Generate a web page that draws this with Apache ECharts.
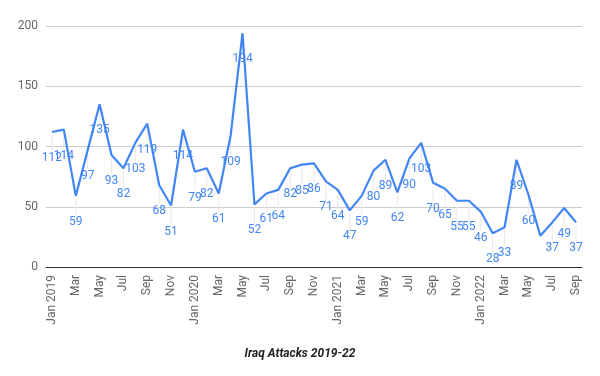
<!DOCTYPE html>
<html>
<head>
<meta charset="utf-8">
<script src="https://cdn.jsdelivr.net/npm/echarts@6/dist/echarts.min.js"></script>
<style>
  html, body { margin: 0; padding: 0; background: #fff; }
  #chart { width: 600px; height: 376px; }
</style>
</head>
<body>
<div id="chart"></div>
<script>
const MONTHS = ['Jan', 'Feb', 'Mar', 'Apr', 'May', 'Jun', 'Jul', 'Aug', 'Sep', 'Oct', 'Nov', 'Dec']
const YEARS = [2019, 2020, 2021, 2022]

// monthly attacks, Jan 2019 .. Sep 2022
const attacks = [
  112, 114, 59, 97, 135, 93, 82, 103, 119, 68, 51, 114,
  79, 82, 61, 109, 194, 52, 61, 64, 82, 85, 86, 71,
  64, 47, 59, 80, 89, 62, 90, 103, 70, 65, 55, 55,
  46, 28, 33, 89, 60, 26, 37, 49, 37
]
// points whose label is not drawn in the original
const hiddenLabels = ['Jun 2022']

const categories = []
for (const y of YEARS) {
  for (const m of MONTHS) {
    if (categories.length < attacks.length) categories.push(m + ' ' + y)
  }
}

const chart = echarts.init(document.getElementById('chart'))

const FONT = 'Roboto, "Noto Sans", sans-serif'
const BLUE = '#4285f4'

// thin vertical guide from each point down to its label
function renderGuide(params, api) {
  if (hiddenLabels.includes(categories[params.dataIndex])) return null
  const p = api.coord([api.value(0), api.value(1)])
  return {
    type: 'line',
    shape: { x1: p[0], y1: p[1] + 3, x2: p[0], y2: p[1] + 19 },
    style: { stroke: '#e8e8e8', lineWidth: 1 },
    silent: true
  }
}

chart.setOption({
  animation: false,
  backgroundColor: '#fff',
  textStyle: { fontFamily: FONT },
  title: {
    text: 'Iraq Attacks 2019-22',
    left: 'center',
    top: 343,
    textStyle: { fontSize: 12, fontWeight: 'bold', fontStyle: 'italic', color: '#222', fontFamily: FONT }
  },
  grid: { left: 46, right: 18, top: 26, bottom: 109, containLabel: false },
  xAxis: {
    type: 'category',
    data: categories,
    boundaryGap: true,
    axisLine: { lineStyle: { color: '#333', width: 1 } },
    axisTick: { show: false },
    axisLabel: {
      rotate: 90,
      interval: 1,
      color: '#666',
      fontSize: 12,
      margin: 8,
      formatter: (v) => v.startsWith('Jan') ? v : v.slice(0, 3)
    }
  },
  yAxis: {
    type: 'value',
    min: 0,
    max: 200,
    interval: 50,
    axisLine: { show: false },
    axisTick: { show: false },
    axisLabel: { color: '#666', fontSize: 12, margin: 8 },
    splitLine: { lineStyle: { color: '#ccc' } }
  },
  series: [
    {
      type: 'custom',
      renderItem: renderGuide,
      data: attacks.map((v, i) => [i, v]),
      z: 1
    },
    {
      type: 'line',
      z: 2,
      data: attacks.map((v, i) => ({
        value: v,
        label: { show: !hiddenLabels.includes(categories[i]) }
      })),
      symbol: 'circle',
      symbolSize: 0,
      showAllSymbol: true,
      lineStyle: { color: BLUE, width: 2.2 },
      itemStyle: { color: BLUE },
      label: {
        show: true,
        position: 'bottom',
        distance: 20,
        color: BLUE,
        fontSize: 12,
        fontFamily: FONT
      }
    }
  ]
})
</script>
</body>
</html>
